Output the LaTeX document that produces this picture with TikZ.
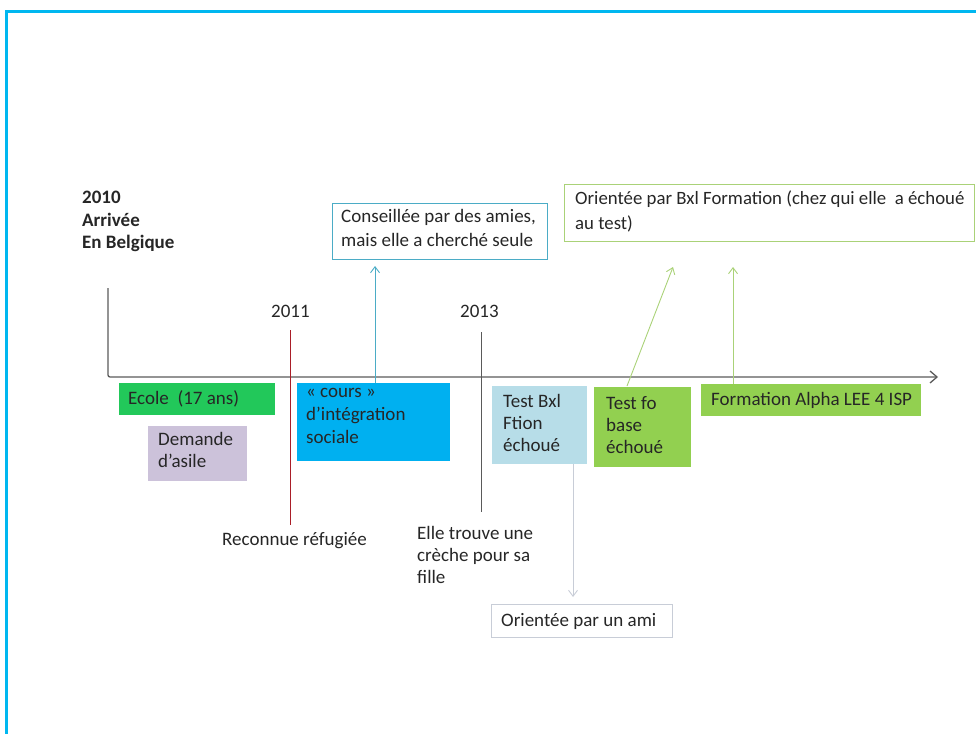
\documentclass[tikz,border=0pt]{standalone}
\usepackage{fontspec}
\setmainfont{Carlito}
\usetikzlibrary{arrows.meta}
\definecolor{frameblue}{RGB}{0,183,240}
\definecolor{axisgrey}{RGB}{90,90,90}
\definecolor{ecolegreen}{RGB}{34,200,90}
\definecolor{lavender}{RGB}{204,194,218}
\definecolor{coursblue}{RGB}{0,176,240}
\definecolor{paleblue}{RGB}{183,221,232}
\definecolor{leafgreen}{RGB}{146,208,80}
\definecolor{tealline}{RGB}{75,172,198}
\definecolor{softgreen}{RGB}{170,210,120}
\definecolor{darkred}{RGB}{170,30,40}
\definecolor{greyline}{RGB}{200,205,215}
\begin{document}
\begin{tikzpicture}[x=1pt,y=-1pt,
  txt/.style={font=\fontsize{19}{22.5}\selectfont, text=black!85, inner sep=0pt, anchor=north west, align=left},
  fillbox/.style={draw=none, inner sep=0pt, anchor=north west},
  conn/.style={-{Straight Barb[length=6pt,width=9pt]}, line width=0.9pt}]
  \useasboundingbox (0,0) rectangle (976,733);
  % outer frame (open to the right and bottom)
  \draw[frameblue, line width=3pt] (6,740) -- (6,12) -- (980,12);

  % time axis
  \coordinate (axstart) at (108,288);
  \coordinate (axend) at (938,377);
  \draw[axisgrey, line width=1.3pt, rounded corners=2pt, -{Straight Barb[length=7pt,width=12pt]}]
    (axstart) -- (108,377) -- (axend);

  % year 2010
  \node[txt, font=\fontsize{19}{22.5}\selectfont\bfseries] (y2010) at (82,191) {2010\\Arrivée\\En Belgique};

  % year 2011
  \node[txt] (y2011) at (271,305) {2011};
  \coordinate (r1) at (290,330);
  \coordinate (r2) at (290,525);
  \draw[darkred, line width=0.9pt] (r1) -- (r2);
  \node[txt] (refugiee) at (222,532) {Reconnue réfugiée};

  % year 2013
  \node[txt] (y2013) at (460,305) {2013};
  \coordinate (c1) at (481,332);
  \coordinate (c2) at (481,512);
  \draw[axisgrey, line width=1pt] (c1) -- (c2);
  \node[txt, font=\fontsize{19}{22}\selectfont] (creche) at (417,526) {Elle trouve une\\crèche pour sa\\fille};

  % coloured event boxes
  \node[fillbox, fill=ecolegreen, minimum width=156pt, minimum height=32pt] (ecole) at (119,383) {};
  \node[txt, anchor=west] (ecoletxt) at (128,399) {Ecole~ (17 ans)};

  \node[fillbox, fill=lavender, minimum width=99pt, minimum height=55pt] (asile) at (148,426) {};
  \node[txt, font=\fontsize{19}{22}\selectfont] (asiletxt) at (158,432) {Demande\\d’asile};

  \node[fillbox, fill=coursblue, minimum width=153pt, minimum height=78pt] (cours) at (297,383) {};
  \node[txt, font=\fontsize{19}{23}\selectfont] (courstxt) at (306,388) {« cours »\\d’intégration\\sociale};

  \node[fillbox, fill=paleblue, minimum width=95pt, minimum height=78pt] (bxl) at (492,386) {};
  \node[txt, font=\fontsize{19}{22}\selectfont] (bxltxt) at (503,394) {Test Bxl\\Ftion\\échoué};

  \node[fillbox, fill=leafgreen, minimum width=97pt, minimum height=80pt] (fo) at (594,387) {};
  \node[txt, font=\fontsize{19}{22}\selectfont] (fotxt) at (606,396) {Test fo\\base\\échoué};

  \node[fillbox, fill=leafgreen, minimum width=220pt, minimum height=32pt] (alpha) at (701,384) {};
  \node[txt, anchor=west] (alphatxt) at (711,400) {Formation Alpha LEE 4 ISP};

  % callout boxes
  \node[draw=tealline, line width=0.9pt, anchor=north west, minimum width=215pt, minimum height=56pt, inner sep=0pt] (conseil) at (332,203) {};
  \node[txt, font=\fontsize{19}{24}\selectfont] (conseiltxt) at (341,209) {Conseillée par des amies,\\mais elle a cherché seule};

  \node[draw=softgreen, line width=0.9pt, anchor=north west, minimum width=410pt, minimum height=57pt, inner sep=0pt] (orient) at (564,184) {};
  \node[txt, font=\fontsize{18.8}{25}\selectfont] (orienttxt) at (575,191) {Orientée par Bxl Formation (chez qui elle~ a échoué\\ au test)};

  \node[draw=greyline, line width=0.8pt, anchor=north west, minimum width=181pt, minimum height=33pt, inner sep=0pt] (ami) at (491,604) {};
  \node[txt, anchor=west] (amitxt) at (501,621) {Orientée par un ami};

  % connectors
  \coordinate (conseilfoot) at (375,266);
  \draw[conn, tealline] (375,383) -- (conseilfoot);
  \coordinate (foup) at (673,267);
  \draw[conn, softgreen] (fo.north west -| 627,0) ++(0,-1) -- (foup);
  \coordinate (alphaup) at (733,267);
  \draw[conn, softgreen] (alpha.north west -| 733,0) -- (alphaup);
  \coordinate (amitop) at (573,597);
  \draw[conn, greyline] (bxl.south west -| 573,0) -- (amitop);
\end{tikzpicture}
\end{document}
